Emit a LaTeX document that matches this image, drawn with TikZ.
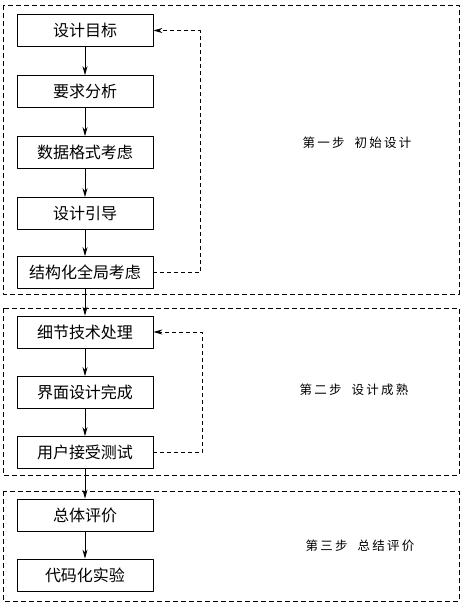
\documentclass[tikz,border=0pt]{standalone}
\usepackage{fontspec}
\setmainfont{Noto Sans CJK SC}
\usetikzlibrary{arrows.meta}
\tikzset{
  box/.style={draw, line width=.8pt, minimum width=136pt, minimum height=32pt, inner sep=0pt, font=\fontsize{16}{18}\selectfont},
  group/.style={line width=.8pt, dash pattern=on 5pt off 3pt},
  fb/.style={line width=.8pt, dash pattern=on 4pt off 3pt},
  steplabel/.style={font=\fontsize{12.5}{14}\selectfont\addfontfeature{LetterSpace=18}}
}
\begin{document}
\begin{tikzpicture}[x=1pt, y=-1pt, line join=round, >={Stealth[length=9pt,width=5pt]}]
\def\cx{85}
\useasboundingbox (0,0) rectangle (465,608);
% three stages
\draw[group] (3,5) rectangle (459,294);
\draw[group] (3,308) rectangle (459,475);
\draw[group] (3,491) rectangle (459,601);
% first stage
\node[box] (mubiao) at (\cx,30.5) {设计目标};
\node[box] (fenxi) at (\cx,91.5) {要求分析};
\node[box] (geshi) at (\cx,152.5) {数据格式考虑};
\node[box] (yindao) at (\cx,213.5) {设计引导};
\node[box] (quanju) at (\cx,272.5) {结构化全局考虑};
% second stage
\node[box] (xijie) at (\cx,332) {细节技术处理};
\node[box] (jiemian) at (\cx,392.5) {界面设计完成};
\node[box] (ceshi) at (\cx,452.5) {用户接受测试};
% third stage
\node[box] (zongti) at (\cx,515) {总体评价};
\node[box] (shiyan) at (\cx,575) {代码化实验};
\foreach \a/\b in {mubiao/fenxi, fenxi/geshi, geshi/yindao, yindao/quanju, quanju/xijie, xijie/jiemian, jiemian/ceshi, ceshi/zongti, zongti/shiyan}
  \draw[line width=.8pt, ->] (\a) -- (\b);
% loops back
\draw[fb, ->] (quanju.east) -- ++(47,0) |- (mubiao.east);
\draw[fb, ->] (ceshi.east) -- ++(49,0) |- (xijie.east);
% stage names
\node[steplabel] (bu1) at (357,143) {第一步\hspace{10pt}初始设计};
\node[steplabel] (bu2) at (354,390) {第二步\hspace{10pt}设计成熟};
\node[steplabel] (bu3) at (360,546) {第三步\hspace{10pt}总结评价};
\end{tikzpicture}
\end{document}
